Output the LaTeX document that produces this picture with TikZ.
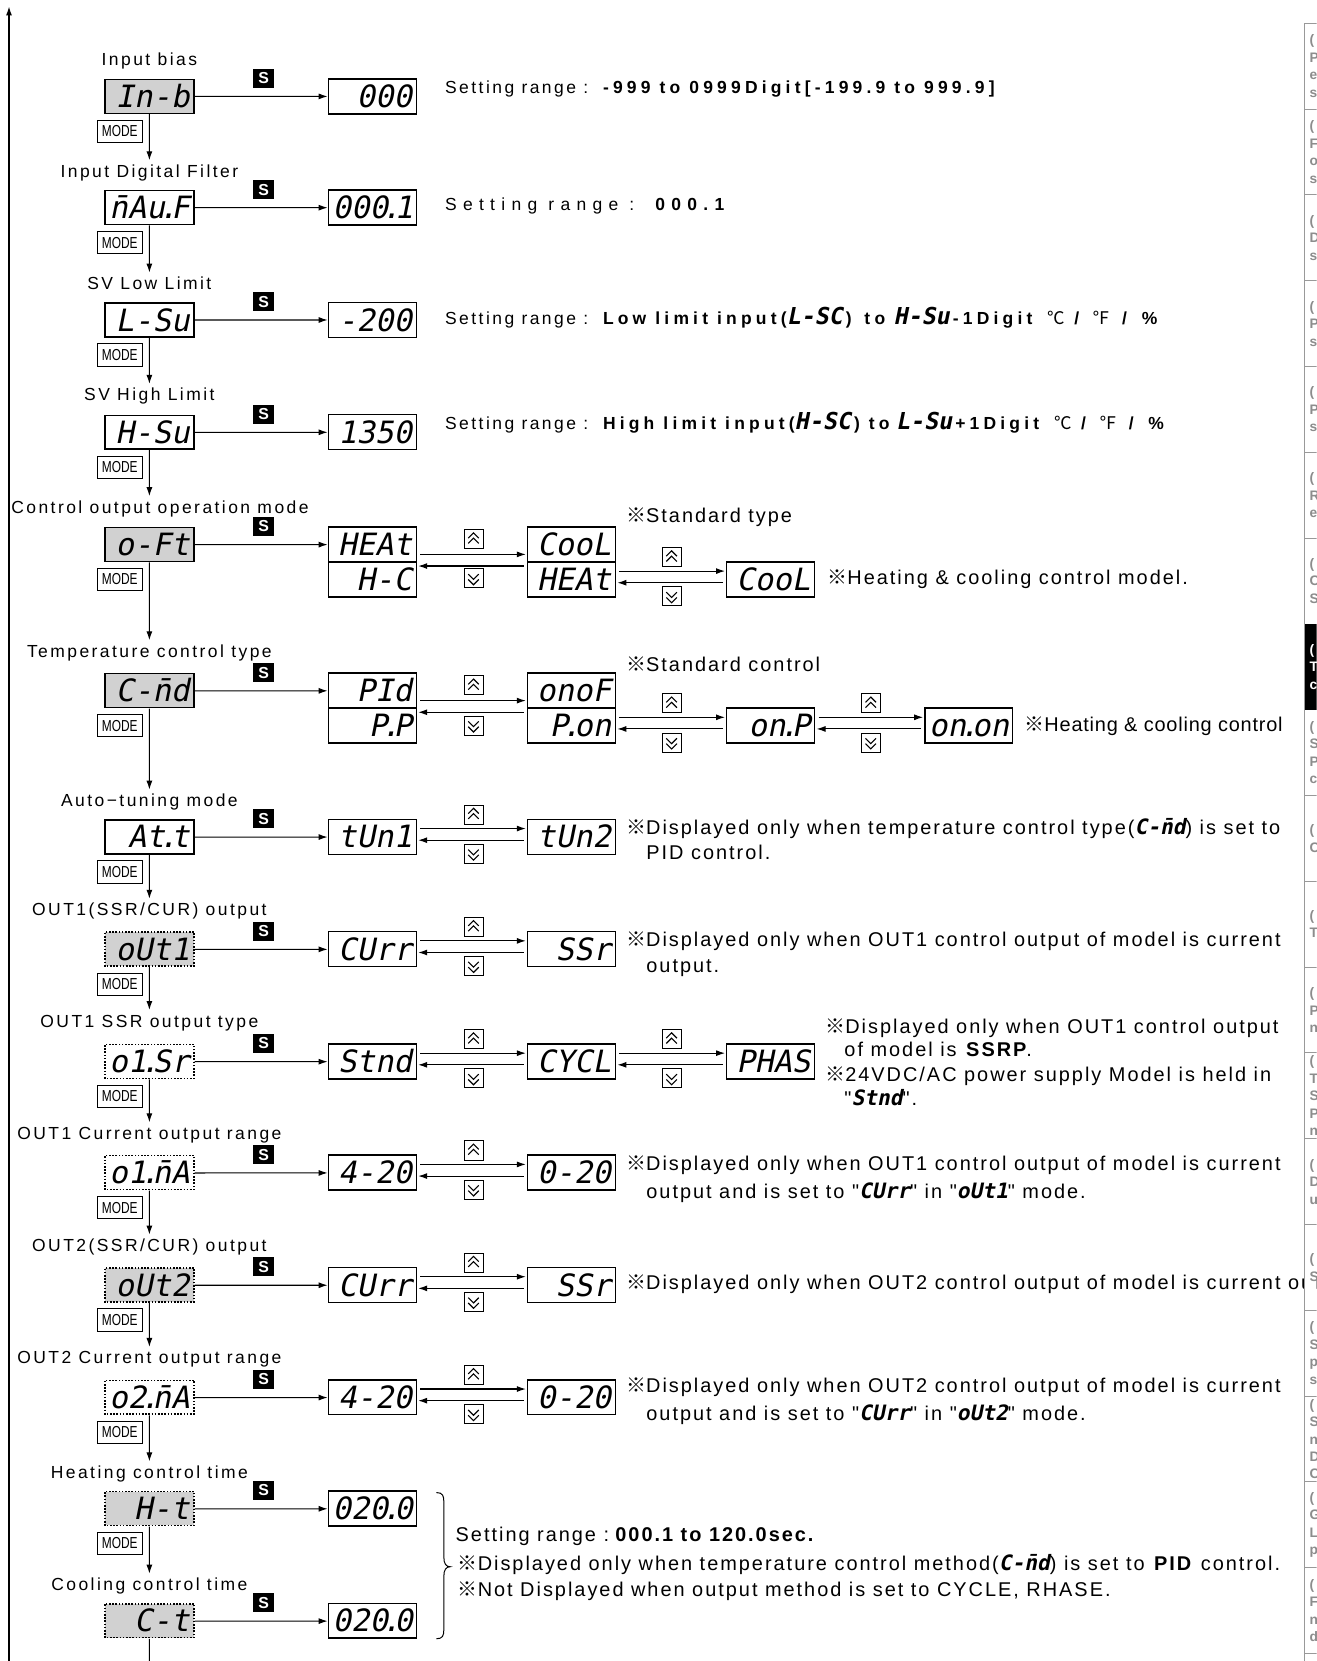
\documentclass[tikz,border=0pt]{standalone}
\usepackage{fontspec}
\usetikzlibrary{arrows.meta}
\setmainfont{Liberation Sans}
\newfontfamily\lblfont{Liberation Sans}[LetterSpace=14]
\newfontfamily\boldfont{Liberation Sans}[LetterSpace=24]
\newfontfamily\widefont{Liberation Sans}[LetterSpace=36]
\newfontfamily\notefont{Liberation Sans}[LetterSpace=10]
\newfontfamily\tightfont{Liberation Sans}[LetterSpace=4]
\newfontfamily\narrowfont{Liberation Sans}[FakeStretch=0.75]
\newfontfamily\segfont{DejaVu Sans Mono}[FakeSlant=0.2]
\newfontfamily\symfont{Noto Sans CJK KR}
\newcommand\refmark{{\symfont ※}}
\newcommand\degC{{\symfont ℃}}
\newcommand\degF{{\symfont ℉}}
\newcommand\seg[1]{{\segfont\bfseries\fontsize{20}{20}\selectfont #1}}
\newcommand\segb[1]{{\segfont\bfseries\fontsize{22}{22}\selectfont #1}\hspace{3pt}}
\newcommand\bw[1]{{\boldfont\bfseries #1}}
\newcommand\dt{\kern-.2em.\kern-.2em}
\newcommand\unitsline{\hspace{14pt}\degC\hspace{9pt}\bw{/}\hspace{13pt}\degF\hspace{11pt}\bw{/}\hspace{14pt}\bw{\%}}
\begin{document}
\begin{tikzpicture}[x=1pt,y=-1pt,scale=1.0596,transform shape]
  \tikzset{
    lbl/.style={font=\lblfont\fontsize{16.5}{18}\selectfont,text height=12pt,text depth=3pt,inner sep=4pt},
    prm/.style={draw,line width=1.5pt,minimum width=84pt,minimum height=32pt,inner xsep=3pt,inner ysep=0pt,
      text width=76pt,align=right,text height=21pt,text depth=0pt,font=\segfont\fontsize{29}{29}\selectfont},
    prmg/.style={prm,fill=black!18},
    prmd/.style={prm,dash pattern=on 1.6pt off 1.6pt},
    prmdg/.style={prmd,fill=black!18},
    val/.style={prm,minimum width=83pt,minimum height=33pt,text width=75pt},
    mode/.style={draw,line width=0.8pt,minimum width=42pt,minimum height=21pt,inner sep=0pt,font=\narrowfont\fontsize{15}{15}\selectfont},
    sbox/.style={fill=black,text=white,minimum width=20pt,minimum height=18pt,inner sep=0pt,font=\bfseries\fontsize{15}{15}\selectfont},
    arr/.style={-{Latex[length=9pt,width=6pt]},line width=1.1pt},
    pair/.style={arr,shorten <=3pt,shorten >=1pt},
    txt/.style={anchor=west,inner sep=0pt,text height=12pt,text depth=4pt,font=\lblfont\fontsize{16.5}{18}\selectfont},
    note/.style={anchor=west,inner sep=0pt,text height=13pt,text depth=4pt,font=\notefont\fontsize{18.8}{20}\selectfont},
    tab/.style={anchor=west,align=left,inner sep=0pt,text=black!45,font=\bfseries\fontsize{13}{16.5}\selectfont},
    upkey/.pic={\draw[line width=0.9pt] (-9,-9) rectangle (9,9);
      \draw[line width=1.1pt] (-5,-1) -- (0,-6) -- (5,-1) (-5,4) -- (0,-1) -- (5,4);},
    dnkey/.pic={\draw[line width=0.9pt] (-9,-9) rectangle (9,9);
      \draw[line width=1.1pt] (-5,-4) -- (0,1) -- (5,-4) (-5,1) -- (0,6) -- (5,1);}
  }
  \useasboundingbox (0,0) rectangle (1243,1568);
  \clip (0,0) rectangle (1243,1568);

  \coordinate (bot) at (8.5,1568);
  \coordinate (top) at (8.5,6);
  \draw[arr,line width=1.4pt] (bot) -- (top);

  \node[lbl] (l1) at (141,57) {Input bias};
  \node[prmg] (p1) at (141,91) {In-b};
  \node[mode] (m1) at (113,124) {MODE};
  \node[sbox] (s1) at (249,74) {S};
  \node[val] (v1) at (351.5,91) {000};
  \node[txt] (t1) at (420,84) {Setting range :\hspace{14pt}\bw{-999 to 0999Digit[-199.9 to 999.9]}};

  \node[lbl] (l2) at (141,163) {Input Digital Filter};
  \node[prm] (p2) at (141,196) {\=nAu\dt F};
  \node[mode] (m2) at (113,229) {MODE};
  \node[sbox] (s2) at (249,179) {S};
  \node[val] (v2) at (351.5,196) {000\dt 1};
  \node[txt,font=\widefont\fontsize{16.5}{18}\selectfont] (t2) at (420,195) {Setting range : \textbf{000.1}};

  \node[lbl] (l3) at (141,269) {SV Low Limit};
  \node[prm] (p3) at (141,302) {L-Su};
  \node[mode] (m3) at (113,335) {MODE};
  \node[sbox] (s3) at (249,285) {S};
  \node[val] (v3) at (351.5,302) {-200};
  \node[txt] (t3) at (420,302) {Setting range :\hspace{14pt}\bw{Low limit input(}\segb{L-SC}\bw{)}\hspace{12pt}\bw{to}\hspace{8pt}\segb{H-Su}\bw{-1Digit}\unitsline};

  \node[lbl] (l4) at (141,374) {SV High Limit};
  \node[prm] (p4) at (141,408) {H-Su};
  \node[mode] (m4) at (113,441) {MODE};
  \node[sbox] (s4) at (249,391) {S};
  \node[val] (v4) at (351.5,408) {1350};
  \node[txt] (t4) at (420,401) {Setting range :\hspace{14pt}\bw{High limit input(}\segb{H-SC}\bw{) to}\hspace{6pt}\segb{L-Su}\bw{+1Digit}\unitsline};

  \node[lbl] (l5) at (151,480) {Control output operation mode};
  \node[prmg] (p5) at (141,514) {o-Ft};
  \node[mode] (m5) at (113,547) {MODE};
  \node[sbox] (s5) at (249,497) {S};
  \node[val] (v5a) at (351.5,514) {HEAt};
  \node[val] (v5b) at (351.5,547) {H-C};
  \node[val] (v5c) at (539.5,514) {CooL};
  \node[val] (v5d) at (539.5,547) {HEAt};
  \node[val] (v5e) at (727.5,547) {CooL};
  \node[note] (n5a) at (591,489) {\refmark Standard type};
  \node[note] (n5b) at (781,547) {\refmark Heating \& cooling control model.};
  \pic at (447,509) {upkey};
  \pic at (447,546) {dnkey};
  \pic at (634,526) {upkey};
  \pic at (634,563) {dnkey};

  \node[lbl] (l6) at (141,616) {Temperature control type};
  \node[prmg] (p6) at (141,652) {C-\=nd};
  \node[mode] (m6) at (113,685) {MODE};
  \node[sbox] (s6) at (249,635) {S};
  \node[val] (v6a) at (351.5,652) {PId};
  \node[val] (v6b) at (351.5,685) {P\dt P};
  \node[val] (v6c) at (539.5,652) {onoF};
  \node[val] (v6d) at (539.5,685) {P\dt on};
  \node[val] (v6e) at (727.5,685) {on\dt P};
  \node[val] (v6f) at (914.5,685) {on\dt on};
  \node[note] (n6a) at (591,629) {\refmark Standard control};
  \node[note,font=\tightfont\fontsize{18.8}{20}\selectfont] (n6b) at (967,686) {\refmark Heating \& cooling control};
  \pic at (447,647) {upkey};
  \pic at (447,685) {dnkey};
  \pic at (634,664) {upkey};
  \pic at (634,701) {dnkey};
  \pic at (822,664) {upkey};
  \pic at (822,701) {dnkey};

  \node[lbl] (l7) at (141,757) {Auto−tuning mode};
  \node[prm] (p7) at (141,790) {At\dt t};
  \node[mode] (m7) at (113,823) {MODE};
  \node[sbox] (s7) at (249,773) {S};
  \node[val] (v7a) at (351.5,790) {tUn1};
  \node[val] (v7b) at (539.5,790) {tUn2};
  \node[note] (n7a) at (591,783) {\refmark Displayed only when temperature control type(\seg{C-\=nd}) is set to};
  \node[note] (n7b) at (610,807) {PID control.};
  \pic at (447,769) {upkey};
  \pic at (447,806) {dnkey};

  \node[lbl] (l8) at (141,860) {OUT1(SSR/CUR) output};
  \node[prmdg] (p8) at (141,896) {oUt1};
  \node[mode] (m8) at (113,929) {MODE};
  \node[sbox] (s8) at (249,879) {S};
  \node[val] (v8a) at (351.5,896) {CUrr};
  \node[val] (v8b) at (539.5,896) {SSr};
  \node[note] (n8a) at (591,889) {\refmark Displayed only when OUT1 control output of model is current};
  \node[note] (n8b) at (610,914) {output.};
  \pic at (447,875) {upkey};
  \pic at (447,912) {dnkey};

  \node[lbl] (l9) at (141,965) {OUT1 SSR output type};
  \node[prmd] (p9) at (141,1002) {o1\dt Sr};
  \node[mode] (m9) at (113,1035) {MODE};
  \node[sbox] (s9) at (249,985) {S};
  \node[val] (v9a) at (351.5,1002) {Stnd};
  \node[val] (v9b) at (539.5,1002) {CYCL};
  \node[val] (v9c) at (727.5,1002) {PHAS};
  \node[note] (n9a) at (779,971) {\refmark Displayed only when OUT1 control output};
  \node[note] (n9b) at (797,993) {of model is \textbf{SSRP}.};
  \node[note] (n9c) at (779,1016) {\refmark 24VDC/AC power supply Model is held in};
  \node[note] (n9d) at (797,1039) {"\seg{Stnd}".};
  \pic at (447,981) {upkey};
  \pic at (447,1018) {dnkey};
  \pic at (634,981) {upkey};
  \pic at (634,1018) {dnkey};

  \node[lbl] (l10) at (141,1071) {OUT1 Current output range};
  \node[prmd] (p10) at (141,1107) {o1\dt\=nA};
  \node[mode] (m10) at (113,1140) {MODE};
  \node[sbox] (s10) at (249,1090) {S};
  \node[val] (v10a) at (351.5,1107) {4-20};
  \node[val] (v10b) at (539.5,1107) {0-20};
  \node[note] (n10a) at (591,1100) {\refmark Displayed only when OUT1 control output of model is current};
  \node[note] (n10b) at (610,1127) {output and is set to "\seg{CUrr}" in "\seg{oUt1}" mode.};
  \pic at (447,1086) {upkey};
  \pic at (447,1123) {dnkey};

  \node[lbl] (l11) at (141,1177) {OUT2(SSR/CUR) output};
  \node[prmdg] (p11) at (141,1213) {oUt2};
  \node[mode] (m11) at (113,1246) {MODE};
  \node[sbox] (s11) at (249,1196) {S};
  \node[val] (v11a) at (351.5,1213) {CUrr};
  \node[val] (v11b) at (539.5,1213) {SSr};
  \node[note] (n11) at (591,1213) {\refmark Displayed only when OUT2 control output of model is current output};
  \pic at (447,1192) {upkey};
  \pic at (447,1229) {dnkey};

  \node[lbl] (l12) at (141,1283) {OUT2 Current output range};
  \node[prmd] (p12) at (141,1319) {o2\dt\=nA};
  \node[mode] (m12) at (113,1352) {MODE};
  \node[sbox] (s12) at (249,1302) {S};
  \node[val] (v12a) at (351.5,1319) {4-20};
  \node[val] (v12b) at (539.5,1319) {0-20};
  \node[note] (n12a) at (591,1310) {\refmark Displayed only when OUT2 control output of model is current};
  \node[note] (n12b) at (610,1336) {output and is set to "\seg{CUrr}" in "\seg{oUt2}" mode.};
  \pic at (447,1298) {upkey};
  \pic at (447,1335) {dnkey};

  \node[lbl] (l13) at (141,1391) {Heating control time};
  \node[prmdg] (p13) at (141,1424) {H-t};
  \node[mode] (m13) at (113,1457) {MODE};
  \node[sbox] (s13) at (249,1407) {S};
  \node[val] (v13) at (351.5,1424) {020\dt 0};

  \node[lbl] (l14) at (141,1497) {Cooling control time};
  \node[prmdg] (p14) at (141,1530) {C-t};
  \node[sbox] (s14) at (249,1513) {S};
  \node[val] (v14) at (351.5,1530) {020\dt 0};
  \coordinate (cend) at (141,1568);

  \node[note] (b1) at (430,1451) {Setting range :\hspace{4pt}\textbf{000.1 to 120.0sec.}};
  \node[note] (b2) at (432,1478) {\refmark Displayed only when temperature control method(\seg{C-\=nd}) is set to \textbf{PID} control.};
  \node[note] (b3) at (432,1503) {\refmark Not Displayed when output method is set to CYCLE, RHASE.};
  \draw[line width=1pt] (412,1409) .. controls (418,1409) and (419,1412) .. (419,1418) -- (419,1470)
    .. controls (419,1476) and (421,1479) .. (425,1479) .. controls (421,1479) and (419,1482) .. (419,1488)
    -- (419,1538) .. controls (419,1544) and (418,1547) .. (412,1547);

  \draw[arr] (p1) -- (p1 |- l2.north);
  \draw[arr] (p2) -- (p2 |- l3.north);
  \draw[arr] (p3) -- (p3 |- l4.north);
  \draw[arr] (p4) -- (p4 |- l5.north);
  \draw[arr] (p5) -- (p5 |- l6.north);
  \draw[arr] (p6) -- (p6 |- l7.north);
  \draw[arr] (p7) -- (p7 |- l8.north);
  \draw[arr] (p8) -- (p8 |- l9.north);
  \draw[arr] (p9) -- (p9 |- l10.north);
  \draw[arr] (p10) -- (p10 |- l11.north);
  \draw[arr] (p11) -- (p11 |- l12.north);
  \draw[arr] (p12) -- (p12 |- l13.north);
  \draw[arr] (p13) -- (p13 |- l14.north);
  \draw[line width=1.1pt] (p14) -- (cend);

  \draw[arr] (p1) -- (v1);
  \draw[arr] (p2) -- (v2);
  \draw[arr] (p3) -- (v3);
  \draw[arr] (p4) -- (v4);
  \draw[arr] (p5) -- (v5a);
  \draw[arr] (p6) -- (v6a);
  \draw[arr] (p7) -- (v7a);
  \draw[arr] (p8) -- (v8a);
  \draw[arr] (p9) -- (v9a);
  \draw[arr] (p10) -- (v10a);
  \draw[arr] (p11) -- (v11a);
  \draw[arr] (p12) -- (v12a);
  \draw[arr] (p13) -- (v13);
  \draw[arr] (p14) -- (v14);

  \draw[pair] ([yshift=8pt]v5a.south east) -- ([yshift=8pt]v5c.south west);
  \draw[pair] ([yshift=-3pt]v5c.south west) -- ([yshift=-3pt]v5a.south east);
  \draw[pair] ([yshift=8pt]v5d.east) -- ([yshift=8pt]v5e.west);
  \draw[pair] ([yshift=-3pt]v5e.west) -- ([yshift=-3pt]v5d.east);
  \draw[pair] ([yshift=8pt]v6a.south east) -- ([yshift=8pt]v6c.south west);
  \draw[pair] ([yshift=-3pt]v6c.south west) -- ([yshift=-3pt]v6a.south east);
  \draw[pair] ([yshift=8pt]v6d.east) -- ([yshift=8pt]v6e.west);
  \draw[pair] ([yshift=-3pt]v6e.west) -- ([yshift=-3pt]v6d.east);
  \draw[pair] ([yshift=8pt]v6e.east) -- ([yshift=8pt]v6f.west);
  \draw[pair] ([yshift=-3pt]v6f.west) -- ([yshift=-3pt]v6e.east);
  \draw[pair] ([yshift=8pt]v7a.east) -- ([yshift=8pt]v7b.west);
  \draw[pair] ([yshift=-3pt]v7b.west) -- ([yshift=-3pt]v7a.east);
  \draw[pair] ([yshift=8pt]v8a.east) -- ([yshift=8pt]v8b.west);
  \draw[pair] ([yshift=-3pt]v8b.west) -- ([yshift=-3pt]v8a.east);
  \draw[pair] ([yshift=8pt]v9a.east) -- ([yshift=8pt]v9b.west);
  \draw[pair] ([yshift=-3pt]v9b.west) -- ([yshift=-3pt]v9a.east);
  \draw[pair] ([yshift=8pt]v9b.east) -- ([yshift=8pt]v9c.west);
  \draw[pair] ([yshift=-3pt]v9c.west) -- ([yshift=-3pt]v9b.east);
  \draw[pair] ([yshift=8pt]v10a.east) -- ([yshift=8pt]v10b.west);
  \draw[pair] ([yshift=-3pt]v10b.west) -- ([yshift=-3pt]v10a.east);
  \draw[pair] ([yshift=8pt]v11a.east) -- ([yshift=8pt]v11b.west);
  \draw[pair] ([yshift=-3pt]v11b.west) -- ([yshift=-3pt]v11a.east);
  \draw[pair] ([yshift=8pt]v12a.east) -- ([yshift=8pt]v12b.west);
  \draw[pair] ([yshift=-3pt]v12b.west) -- ([yshift=-3pt]v12a.east);

  \fill[white] (1231,0) rectangle (1243,1568);
  \fill[black] (1231,589) rectangle (1243,670);
  \draw[black!40,line width=1pt] (1231,22) -- (1231,1568);
  \draw[black!40,line width=1pt] (1231,22) -- +(12,0) (1231,103) -- +(12,0) (1231,184) -- +(12,0)
    (1231,265) -- +(12,0) (1231,346) -- +(12,0) (1231,427) -- +(12,0) (1231,508) -- +(12,0)
    (1231,751) -- +(12,0) (1231,832) -- +(12,0) (1231,913) -- +(12,0) (1231,994) -- +(12,0)
    (1231,1075) -- +(12,0) (1231,1156) -- +(12,0) (1231,1237) -- +(12,0) (1231,1318) -- +(12,0)
    (1231,1399) -- +(12,0) (1231,1480) -- +(12,0) (1231,1561) -- +(12,0);
  \node[tab] (k0) at (1236,62.5) {(\\P\\e\\s};
  \node[tab] (k1) at (1236,143.5) {(\\F\\o\\s};
  \node[tab] (k2) at (1236,224.5) {(\\D\\s};
  \node[tab] (k3) at (1236,305.5) {(\\P\\s};
  \node[tab] (k4) at (1236,386.5) {(\\P\\s};
  \node[tab] (k5) at (1236,467.5) {(\\R\\e};
  \node[tab] (k6) at (1236,548.5) {(\\C\\S};
  \node[tab,text=white] (k7) at (1236,629.5) {(\\T\\c};
  \node[tab] (k8) at (1236,710.5) {(\\S\\P\\c};
  \node[tab] (k9) at (1236,791.5) {(\\C};
  \node[tab] (k10) at (1236,872.5) {(\\T};
  \node[tab] (k11) at (1236,953.5) {(\\P\\n};
  \node[tab] (k12) at (1236,1034.5) {(\\T\\S\\P\\n};
  \node[tab] (k13) at (1236,1115.5) {(\\D\\u};
  \node[tab] (k14) at (1236,1196.5) {(\\S};
  \node[tab] (k15) at (1236,1277.5) {(\\S\\p\\s};
  \node[tab] (k16) at (1236,1358.5) {(\\S\\n\\D\\C};
  \node[tab] (k17) at (1236,1439.5) {(\\G\\L\\p};
  \node[tab] (k18) at (1236,1520.5) {(\\F\\n\\d};
\end{tikzpicture}
\end{document}
